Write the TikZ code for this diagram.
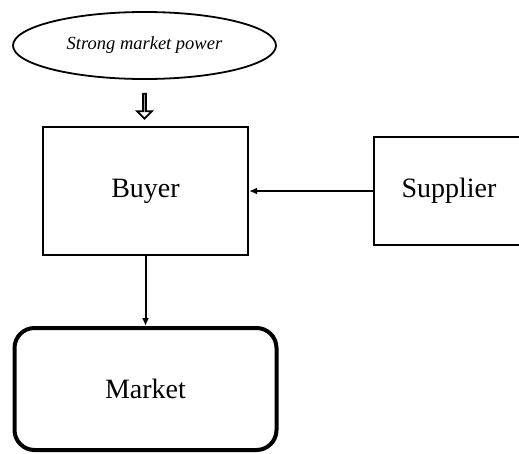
\documentclass[tikz,border=0pt]{standalone}
\usepackage{fontspec}
\setmainfont{Liberation Serif}
\usetikzlibrary{arrows.meta,shapes.geometric,shapes.arrows}
\begin{document}
\begin{tikzpicture}[node distance=198pt, auto]

% Define styles
\tikzstyle{block} = [draw, rectangle, line width=2.2pt, minimum width=205pt, minimum height=128pt, text centered, font=\fontsize{28}{32}\selectfont]
\tikzstyle{market} = [draw, rectangle, rounded corners=20pt, line width=4pt, minimum width=262pt, minimum height=122pt, text centered, font=\fontsize{28}{32}\selectfont]
\tikzstyle{cause} = [draw, ellipse, line width=1.8pt, minimum width=263pt, minimum height=67pt, inner sep=0pt, font=\fontsize{18.5}{22}\selectfont\itshape]
\tikzstyle{push} = [draw, single arrow, line width=1.8pt, shape border rotate=270, minimum height=25pt, minimum width=15pt, single arrow head extend=4pt, inner sep=0pt]
\tikzstyle{line} = [-{Latex[length=8pt,width=7pt]}, line width=2pt]

\useasboundingbox (0,0) rectangle (519pt,-453pt);

% Middle row
\node[block] (buyer) at (145.5pt,-191pt) {Buyer};
\node[block, right of=buyer, node distance=303.5pt, minimum width=150pt, minimum height=108pt] (supplier) {Supplier};

% Top
\node[cause, above of=buyer, node distance=145.5pt, xshift=-1pt] (power) {Strong market power};
\node[push, above of=buyer, node distance=85.5pt, xshift=-1pt] (pusharrow) {};

% Bottom
\node[market, below of=buyer] (marketbox) {Market};

% Arrows
\draw[line] (supplier) -- (buyer);
\draw[line] (buyer) -- (marketbox);

\end{tikzpicture}
\end{document}
